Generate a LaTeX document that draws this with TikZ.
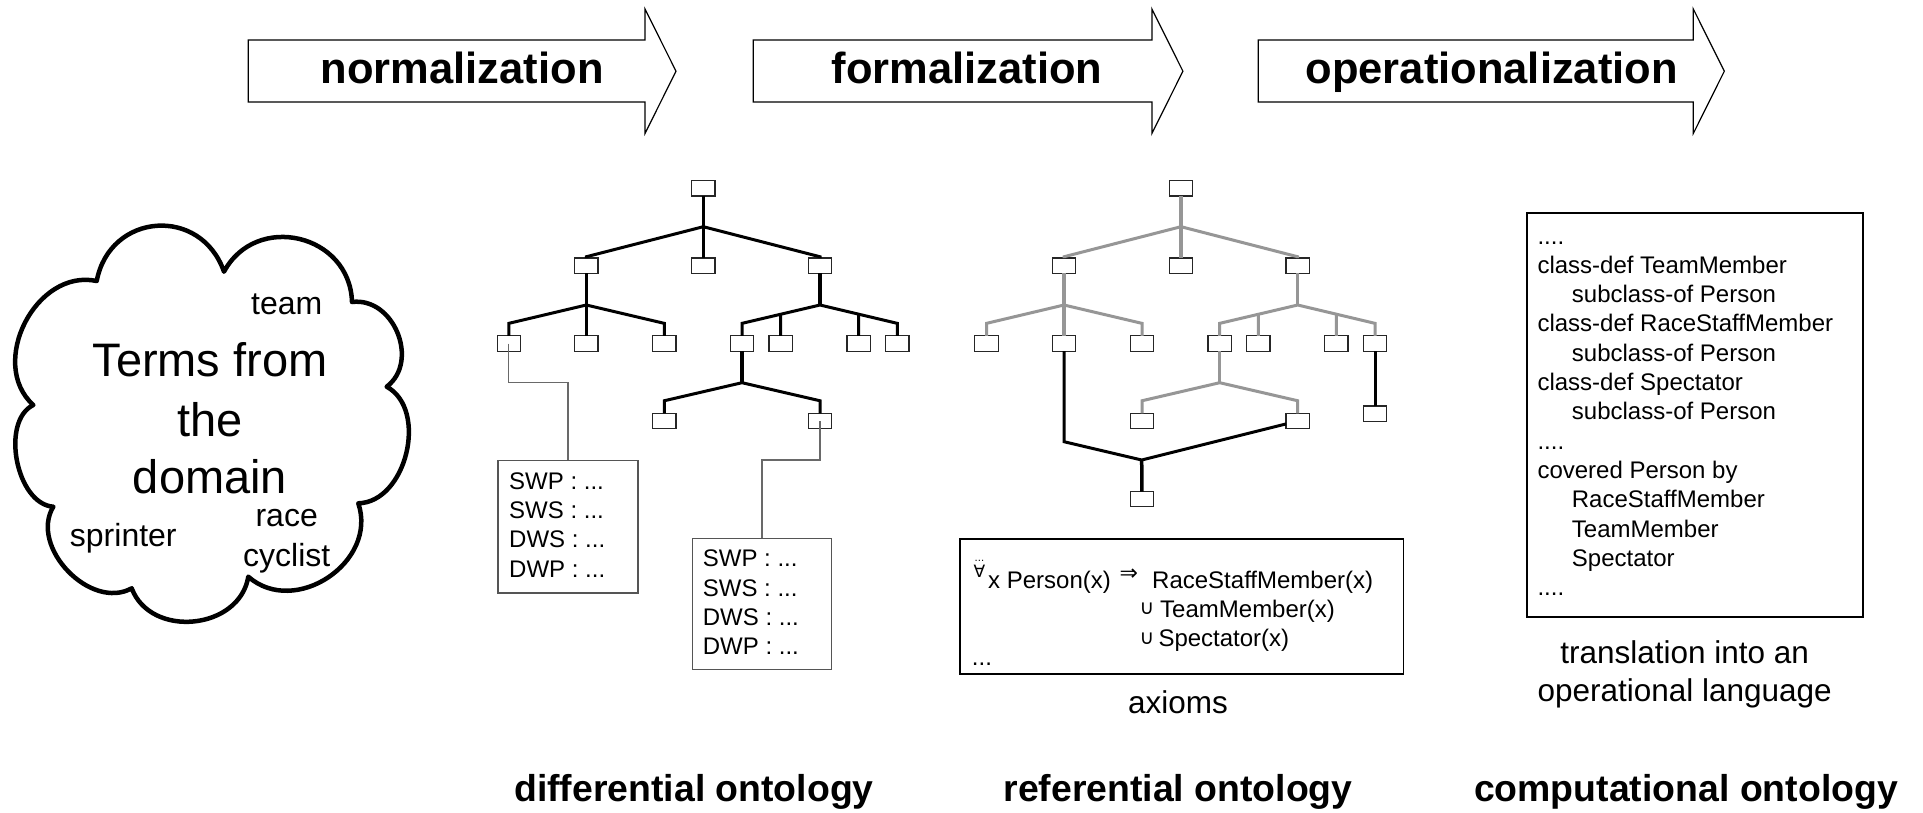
\documentclass[tikz,border=0pt]{standalone}
\usepackage{fontspec}
\setmainfont{Liberation Sans}
\newfontfamily\symfont{DejaVu Sans}
\usetikzlibrary{calc}
\definecolor{treegray}{RGB}{150,150,150}
\definecolor{boxgray}{RGB}{85,85,85}
\definecolor{conngray}{RGB}{105,105,105}
\newcommand\fourdots{....}
\tikzset{
  tbox/.style={draw=black!85, line width=1.2pt, fill=white, minimum width=23.3pt,
    minimum height=15.3pt, inner sep=0pt, outer sep=0pt},
  vedge/.style={line width=3.5pt, draw=#1}, vedge/.default=black,
  dedge/.style={line width=3pt, draw=#1}, dedge/.default=black,
  blockarrow/.style={draw=black, line width=1.2pt, fill=white},
  arrowlab/.style={font=\fontsize{43.5}{50}\selectfont\bfseries, inner sep=0pt},
  bottomlab/.style={font=\fontsize{37.4}{44}\selectfont\bfseries, inner sep=0pt},
  txt/.style={font=\fontsize{24}{29}\selectfont, inner sep=0pt},
  midlab/.style={font=\fontsize{31.5}{38}\selectfont, inner sep=0pt},
  cloudword/.style={font=\fontsize{32}{38}\selectfont, inner sep=0pt},
  cloudbig/.style={font=\fontsize{47}{56}\selectfont, inner sep=0pt},
  cloudline/.style={draw=black, line width=4.5pt, line join=round},
  infobox/.style={draw=boxgray, line width=1.2pt, fill=white, inner sep=0pt, anchor=north west},
  thinconn/.style={draw=conngray, line width=1.3pt},
  axbox/.style={draw=black, line width=1.6pt, inner sep=0pt, anchor=north west},
  compbox/.style={draw=black, line width=2.2pt, inner sep=0pt, anchor=north west},
  symtxt/.style={font=\symfont\fontsize{#1}{#1}\selectfont, inner sep=0pt, anchor=base west},
}
\newcommand\ontotree[3]{%
  \begin{scope}[xshift=#2]
    \node[tbox] (#1r)  at (1181,188.3) {};
    \node[tbox] (#1a)  at (1064,265.7) {};
    \node[tbox] (#1b)  at (1181,265.7) {};
    \node[tbox] (#1c)  at (1297.7,265.7) {};
    \node[tbox] (#1a1) at (986.5,343.5) {};
    \node[tbox] (#1a2) at (1064,343.5) {};
    \node[tbox] (#1a3) at (1142,343.5) {};
    \node[tbox] (#1c1) at (1219.7,343.5) {};
    \node[tbox] (#1c2) at (1258.3,343.5) {};
    \node[tbox] (#1c3) at (1336.3,343.5) {};
    \node[tbox] (#1c4) at (1375,343.5) {};
    \node[tbox] (#1d1) at (1142,421) {};
    \node[tbox] (#1d2) at (1297.7,421) {};
    \coordinate (#1jr) at (1181,226.7);
    \coordinate (#1ja) at (1064,305);
    \coordinate (#1jc) at (1297.7,305);
    \coordinate (#1jd) at (1219.7,382.7);
  \end{scope}
  \draw[vedge=#3] (#1r) -- (#1jr) -- (#1b);
  \draw[dedge=#3] (#1a) -- ([yshift=1.3pt]#1a.north) -- (#1jr) -- ([yshift=1.3pt]#1c.north) -- (#1c);
  \draw[vedge=#3] (#1a) -- (#1ja) -- (#1a2);
  \draw[dedge=#3] (#1a1) -- ([yshift=12.5pt]#1a1.north) -- (#1ja) -- ([yshift=12.5pt]#1a3.north) -- (#1a3);
  \draw[vedge=#3] (#1c) -- (#1jc);
  \draw[dedge=#3] (#1c1) -- ([yshift=12.5pt]#1c1.north) coordinate (#1c1t) -- (#1jc)
     -- ([yshift=12.5pt]#1c4.north) coordinate (#1c4t) -- (#1c4);
  \draw[dedge=#3] (#1c2) -- (intersection of #1jc--#1c1t and #1c2.north--#1c2.south);
  \draw[dedge=#3] (#1c3) -- (intersection of #1jc--#1c4t and #1c3.north--#1c3.south);
  \draw[vedge=#3] (#1c1) -- (#1jd);
  \draw[dedge=#3] (#1d1) -- ([yshift=12.6pt]#1d1.north) -- (#1jd) -- ([yshift=12.6pt]#1d2.north) -- (#1d2);
}
\begin{document}
\begin{tikzpicture}[x=1pt,y=-1pt]
\fill[white] (0,0) rectangle (1923,812);
\useasboundingbox (0,0) rectangle (1923,812);

% ---- process arrows
\foreach \x/\w/\c/\lab [count=\i] in {248.3/396.7/462.2/normalization,
    753.3/398.6/967/formalization, 1258.3/435/1491.7/operationalization}{
  \draw[blockarrow] (\x,40) -- ++(\w,0) -- ++(0,-31) -- ++(31,62.2) -- ++(-31,62.3)
     -- ++(0,-31.6) -- (\x,101.9) -- cycle;
  \node[arrowlab, anchor=base] (arr\i) at (\c,83.3) {\lab};
}

% ---- cloud
\coordinate (C1) at (96.7,281);
\coordinate (C2) at (224,271.7);
\coordinate (C3) at (352,302);
\coordinate (C4) at (386.7,386.7);
\coordinate (C5) at (358.3,503.3);
\coordinate (C6) at (248.3,576.7);
\coordinate (C7) at (131.7,588.3);
\coordinate (C8) at (53.3,506.7);
\coordinate (C9) at (33.3,405);
\draw[cloudline] (C1)
  .. controls ($(C1)!70pt!75:(C2)$) and ($(C2)!70pt!-75:(C1)$) .. (C2)
  .. controls ($(C2)!68pt!75:(C3)$) and ($(C3)!68pt!-75:(C2)$) .. (C3)
  .. controls ($(C3)!42pt!75:(C4)$) and ($(C4)!42pt!-75:(C3)$) .. (C4)
  .. controls ($(C4)!48pt!75:(C5)$) and ($(C5)!48pt!-75:(C4)$) .. (C5)
  .. controls ($(C5)!62pt!75:(C6)$) and ($(C6)!62pt!-75:(C5)$) .. (C6)
  .. controls ($(C6)!54pt!75:(C7)$) and ($(C7)!54pt!-75:(C6)$) .. (C7)
  .. controls ($(C7)!47pt!75:(C8)$) and ($(C8)!47pt!-75:(C7)$) .. (C8)
  .. controls ($(C8)!37pt!75:(C9)$) and ($(C9)!37pt!-75:(C8)$) .. (C9)
  .. controls ($(C9)!62pt!75:(C1)$) and ($(C1)!62pt!-75:(C9)$) .. (C1) -- cycle;
\node[cloudbig, anchor=base] (t1) at (210,376.7) {Terms from};
\node[cloudbig, anchor=base] (t2) at (210,436) {the};
\node[cloudbig, anchor=base] (t3) at (210,493.3) {domain};
\node[cloudword, anchor=base] (w1) at (286.7,314) {team};
\node[cloudword, anchor=base] (w2) at (286.7,526.7) {race};
\node[cloudword, anchor=base] (w3) at (286.7,566) {cyclist};
\node[cloudword, anchor=base] (w4) at (123.3,546.7) {sprinter};

% ---- trees
\ontotree{D}{-477.7pt}{black}
\ontotree{R}{0pt}{treegray}

% extra part of the referential ontology
\node[tbox] (Re) at (1375,413.7) {};
\node[tbox] (Rf) at (1142,499.2) {};
\coordinate (Rk) at (1064,441.7);
\coordinate (Rjf) at (1141.7,460);
\draw[dedge] (Ra2) -- (Rk) -- (Rjf) -- (Rd2);
\draw[vedge] (Rjf) -- (Rf);
\draw[dedge] (Rc4) -- (Re);

% ---- differential annotations
\node[infobox, minimum width=140pt, minimum height=132.3pt] (i1) at (497.3,460) {};
\node[infobox, minimum width=139.3pt, minimum height=131.3pt] (i2) at (691.7,537.7) {};
\draw[thinconn] (Da1.center) |- ($(i1.north)+(0,-77.7)$) -- (i1.north);
\draw[thinconn] (Dd2.center) |- ($(i2.north)+(0,-77.7)$) -- (i2.north);
\foreach \t [count=\i] in {SWP, SWS, DWS, DWP}{
  \node[txt, anchor=base west] (ia\i) at (509,{489.3+29.3*(\i-1)}) {\t{} : ...};
  \node[txt, anchor=base west] (ib\i) at (702.7,{566.7+29.3*(\i-1)}) {\t{} : ...};
}

% ---- axioms
\node[axbox, minimum width=443.4pt, minimum height=135pt] (ax) at (959.3,538.3) {};
\node[symtxt=10] (fadots) at (974.5,561) {...};
\node[symtxt=17] (fa) at (973.5,577) {∀};
\node[txt, anchor=base west] (ax1) at (988,588) {x Person(x)};
\node[symtxt=22] (impl) at (1119.5,580) {⇒};
\node[txt, anchor=base west] (ax2) at (1152,588) {RaceStaffMember(x)};
\node[symtxt=20] (u1) at (1139.5,614.5) {∪};
\node[txt, anchor=base west] (ax3) at (1160,617.3) {TeamMember(x)};
\node[symtxt=20] (u2) at (1139.5,644) {∪};
\node[txt, anchor=base west] (ax4) at (1158.3,646.7) {Spectator(x)};
\node[txt, anchor=base west] (ax5) at (971.7,665) {...};
\node[midlab, anchor=base] (axl) at (1178,713.3) {axioms};

% ---- computational
\node[compbox, minimum width=335.7pt, minimum height=404.3pt] (cb) at (1526,211.7) {};
\foreach \x/\t [count=\i] in {1537.3/\fourdots, 1537.3/class-def TeamMember, 1571.7/subclass-of Person,
    1537.3/class-def RaceStaffMember, 1571.7/subclass-of Person, 1537.3/class-def Spectator,
    1571.7/subclass-of Person, 1537.3/\fourdots, 1537.3/covered Person by, 1571.7/RaceStaffMember,
    1571.7/TeamMember, 1571.7/Spectator, 1537.3/\fourdots}{
  \node[txt, anchor=base west] (cl\i) at (\x,{244+29.3*(\i-1)}) {\t};
}
\node[midlab, anchor=base] (tr1) at (1684.7,663.3) {translation into an};
\node[midlab, anchor=base] (tr2) at (1684.7,701.7) {operational language};

% ---- bottom labels
\node[bottomlab, anchor=base] (o1) at (694,801.5) {differential ontology};
\node[bottomlab, anchor=base] (o2) at (1178,801.5) {referential ontology};
\node[bottomlab, anchor=base] (o3) at (1686,801.5) {computational ontology};
\end{tikzpicture}
\end{document}
